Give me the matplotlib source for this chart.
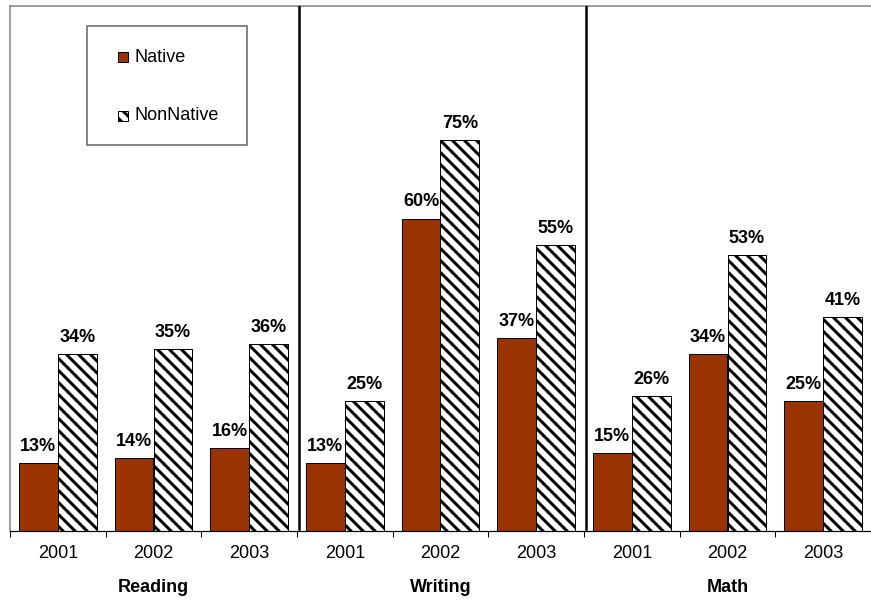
import matplotlib
matplotlib.use("Agg")
import matplotlib.pyplot as plt
from matplotlib.patches import Rectangle
import numpy as np

plt.rcParams['font.family'] = ['Liberation Sans', 'DejaVu Sans']
plt.rcParams['hatch.linewidth'] = 3.0
plt.rcParams['hatch.color'] = 'black'

subjects = ["Reading", "Writing", "Math"]
years = ["2001", "2002", "2003"]
native = [13, 14, 16, 13, 60, 37, 15, 34, 25]
nonnative = [34, 35, 36, 25, 75, 55, 26, 53, 41]
series_names = ["Native", "NonNative"]

NATIVE_COLOR = "#993300"
HATCH = "\\\\"
DPI = 72
W, H = 871, 600
FS = 18

fig = plt.figure(figsize=(W / DPI, H / DPI), dpi=DPI)
ax = fig.add_axes([10 / W, (H - 531) / H, (W - 10) / W, (531 - 6) / H])

n = len(native)
x = np.arange(n)
bw = 0.406

b1 = ax.bar(x - bw / 2, native, bw, color=NATIVE_COLOR, edgecolor="black",
            linewidth=1.0, zorder=2)
b2 = ax.bar(x + bw / 2, nonnative, bw, color="white", edgecolor="black",
            hatch=HATCH, linewidth=1.0, zorder=2)

for rect, v in zip(list(b1) + list(b2), native + nonnative):
    ax.annotate(f"{v}%", (rect.get_x() + rect.get_width() / 2, v),
                xytext=(0, 8), textcoords="offset points",
                ha="center", va="bottom", fontsize=FS, fontweight="bold")

ax.set_xlim(-0.5, n - 0.5)
ax.set_ylim(0, 100.8)

# subject separators
for sx in (2.52, 5.52):
    ax.axvline(sx, ymin=0.003, ymax=1, color="black", linewidth=2.5, zorder=3)

ax.set_yticks([])
ax.set_xticks(x)
ax.set_xticklabels(years * 3, fontsize=FS)
ax.tick_params(axis="x", which="major", length=0, pad=14)
ax.set_xticks(np.arange(-0.5, n, 1.0), minor=True)
ax.tick_params(axis="x", which="minor", length=6, width=1, color="black",
               direction="out")

for i, s in enumerate(subjects):
    ax.annotate(s, (3 * i + 1, 0), xycoords=("data", "axes fraction"),
                xytext=(0, -57), textcoords="offset points",
                ha="center", va="center", fontsize=FS, fontweight="bold")

ax.spines["right"].set_visible(False)
ax.spines["left"].set_color("#808080")
ax.spines["top"].set_color("#808080")
ax.spines["top"].set_linewidth(1.5)
ax.spines["left"].set_linewidth(1.5)
ax.spines["bottom"].set_color("black")
ax.spines["bottom"].set_linewidth(1.2)


# legend box drawn in figure pixel coordinates
def fx(px):
    return px / W


def fy(py):
    return (H - py) / H


fig.patches.append(Rectangle((fx(87), fy(145)), fx(247) - fx(87), fy(26) - fy(145),
                             transform=fig.transFigure, facecolor="white",
                             edgecolor="#606060", linewidth=1.5, zorder=5))
legend_rows = [(57, dict(facecolor=NATIVE_COLOR, hatch=None)),
               (116, dict(facecolor="white", hatch=HATCH))]
for (cy, style), name in zip(legend_rows, series_names):
    fig.patches.append(Rectangle((fx(118), fy(cy + 5)), fx(10), 10 / H,
                                 transform=fig.transFigure, edgecolor="black",
                                 linewidth=1.0, zorder=6, **style))
    fig.text(fx(134), fy(cy), name, fontsize=FS, ha="left", va="center",
             zorder=7)

fig.savefig("out.png", dpi=DPI)
